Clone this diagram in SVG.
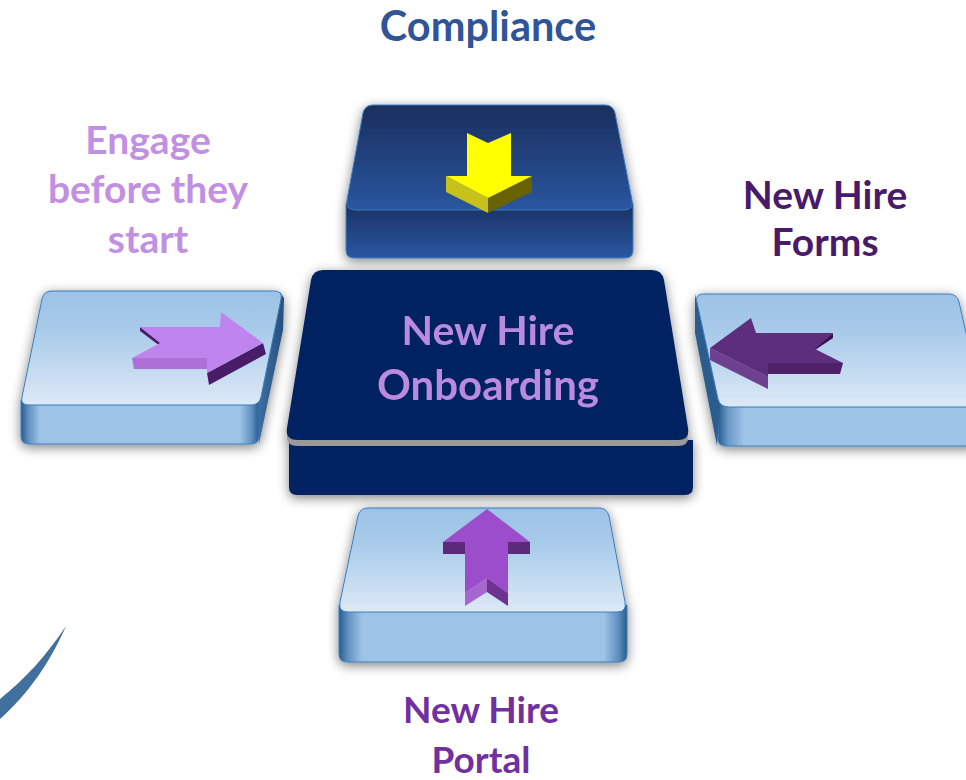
<svg xmlns="http://www.w3.org/2000/svg" width="966" height="780" viewBox="0 0 966 780">
<defs>
<style>
.lbl{font-family:Lato,"Open Sans","Liberation Sans",sans-serif;font-weight:bold;text-anchor:middle}
.edge{stroke:#3a7cc0;stroke-width:1}
</style>
<linearGradient id="topLight" x1="0" y1="0" x2="0" y2="1">
<stop offset="0" stop-color="#9cc2e6"/><stop offset="0.35" stop-color="#a9cbea"/><stop offset="1" stop-color="#dde9f6"/>
</linearGradient>
<linearGradient id="sideLight" x1="0" y1="0" x2="1" y2="0">
<stop offset="0" stop-color="#2a5b8c"/><stop offset="0.03" stop-color="#5f8fbf"/><stop offset="0.08" stop-color="#9dc3e6"/><stop offset="0.92" stop-color="#9dc3e6"/><stop offset="0.97" stop-color="#5f8fbf"/><stop offset="1" stop-color="#2a5b8c"/>
</linearGradient>
<linearGradient id="sideLightR" x1="0" y1="0" x2="1" y2="0">
<stop offset="0" stop-color="#2a5b8c"/><stop offset="0.04" stop-color="#6a98c6"/><stop offset="0.1" stop-color="#9dc3e6"/><stop offset="1" stop-color="#9dc3e6"/>
</linearGradient>
<linearGradient id="faceSide" x1="0" y1="0" x2="1" y2="0">
<stop offset="0" stop-color="#3d6e9f"/><stop offset="1" stop-color="#24507e"/>
</linearGradient>
<linearGradient id="topDark" x1="0" y1="0" x2="0" y2="1">
<stop offset="0" stop-color="#1a2e5c"/><stop offset="1" stop-color="#2a56a0"/>
</linearGradient>
<linearGradient id="sideDark" x1="0" y1="0" x2="0" y2="1">
<stop offset="0" stop-color="#1a3060"/><stop offset="1" stop-color="#2a58a2"/>
</linearGradient>
<filter id="sh" x="-15%" y="-20%" width="130%" height="150%">
<feGaussianBlur in="SourceAlpha" stdDeviation="6"/>
<feOffset dy="3"/>
<feComponentTransfer><feFuncA type="linear" slope="0.5"/></feComponentTransfer>
<feMerge><feMergeNode/><feMergeNode in="SourceGraphic"/></feMerge>
</filter>
</defs>
<rect width="966" height="780" fill="#ffffff"/>

<path id="swoosh" d="M66,626 C50,662 30,692 0,719 L0,699 C26,678 46,656 66,626 Z" fill="#41709f"/>

<g id="node-compliance" filter="url(#sh)">
<path d="M346,203 L633,203 L633,250 Q633,258 625,258 L354,258 Q346,258 346,250 Z" fill="url(#sideDark)" class="edge"/>
<path d="M373,105 L605,105 Q613,105 615,113 L632,200 Q634,210 624,210 L356,210 Q345,210 347,200 L363,113 Q365,105 373,105 Z" fill="url(#topDark)" class="edge"/>
<polygon points="446,176 488,198 488,213 446,192" fill="#c7c11a"/>
<polygon points="488,198 532,176 532,192 488,213" fill="#676200"/>
<polygon points="467,133 488,143 511,133 511,176 532,176 488,198 446,176 467,176" fill="#ffff00"/>
</g>

<g id="node-engage" filter="url(#sh)">
<path d="M21,400 L259,400 L259,436 Q259,444 251,444 L29,444 Q21,444 21,436 Z" fill="url(#sideLight)" class="edge"/>
<path d="M280,292 L284,298 L283,330 L259,444 L259,403 Z" fill="url(#faceSide)"/>
<path d="M51,291 L274,291 Q283,291 281,299 L261,397 Q259,405 251,405 L29,405 Q20,405 22,397 L42,299 Q44,291 51,291 Z" fill="url(#topLight)" class="edge"/>
<polygon points="132,358 207,358 207,369 134,369" fill="#ad6fd6"/>
<polygon points="263,343 266,354 209,385 207,373" fill="#4a1a68"/>
<polygon points="140,327 160,342 160,346 140,331" fill="#4a1a68"/>
<polygon points="140,327 220,327 221,312 263,343 207,373 207,358 132,358 160,343" fill="#c084ee"/>
</g>

<g id="node-forms" filter="url(#sh)">
<path d="M719,400 L975,400 L975,446 L726,446 Q719,446 718,440 Z" fill="url(#sideLightR)" class="edge"/>
<path d="M695,294 L695,333 L717,446 L720,407 Z" fill="#2c5d8e"/>
<path d="M703,294 L949,294 Q957,294 959,302 L983,407 L729,407 Q720,407 718,399 L697,302 Q695,294 703,294 Z" fill="url(#topLight)" class="edge"/>
<polygon points="710,348 768,377 768,389 710,360" fill="#6e4090"/>
<polygon points="768,363 843,363 840,374 768,374" fill="#4e2068"/>
<polygon points="833,333 833,338 815,350 815,348" fill="#3a1050"/>
<polygon points="710,348 751,318 756,333 833,333 815,349 843,363 768,363 768,377" fill="#5b2d7c"/>
</g>

<g id="node-portal" filter="url(#sh)">
<path d="M339,605 L627,605 L627,654 Q627,662 619,662 L347,662 Q339,662 339,654 Z" fill="url(#sideLight)" class="edge"/>
<path d="M368,508 L599,508 Q607,508 609,516 L625,602 Q627,612 617,612 L348,612 Q338,612 340,602 L358,516 Q360,508 368,508 Z" fill="url(#topLight)" class="edge"/>
<polygon points="443,542 465,542 465,554 443,554" fill="#5c2a7a"/>
<polygon points="508,542 530,542 530,554 508,554" fill="#5c2a7a"/>
<polygon points="465,593 487,578 487,592 465,606" fill="#a666d0"/>
<polygon points="487,578 508,593 508,606 487,592" fill="#6e3090"/>
<polygon points="487,509 530,542 508,542 508,593 487,578 465,593 465,542 443,542" fill="#9b4dcc"/>
</g>

<g id="node-center" filter="url(#sh)">
<path d="M289,440 L693,440 L693,487 Q693,495 685,495 L297,495 Q289,495 289,487 Z" fill="#002060"/>
<path d="M323,276 L652,276 Q662,276 664,286 L688,434 Q690,446 678,446 L298,446 Q285,446 287,434 L311,286 Q313,276 323,276 Z" fill="#9a9a9a"/>
<path d="M323,270 L652,270 Q662,270 664,280 L688,428 Q690,440 678,440 L298,440 Q285,440 287,428 L311,280 Q313,270 323,270 Z" fill="#002060"/>
<text class="lbl" x="488" y="345" font-size="41" fill="#b98ade">New Hire</text>
<text class="lbl" x="488" y="400" font-size="42" fill="#b98ade">Onboarding</text>
</g>

<g id="labels">
<text class="lbl" x="488" y="41" font-size="41.5" fill="#2f5597">Compliance</text>
<text class="lbl" x="148" y="154" font-size="39" fill="#c190e2">Engage</text>
<text class="lbl" x="148" y="203" font-size="39" fill="#c190e2">before they</text>
<text class="lbl" x="148" y="253" font-size="39" fill="#c190e2">start</text>
<text class="lbl" x="825" y="209" font-size="39" fill="#4a1a6a">New Hire</text>
<text class="lbl" x="825" y="256" font-size="39" fill="#4a1a6a">Forms</text>
<text class="lbl" x="481" y="723" font-size="37" fill="#7030a0">New Hire</text>
<text class="lbl" x="481" y="773" font-size="37" fill="#7030a0">Portal</text>
</g>
<g id="connectors"/>
</svg>
